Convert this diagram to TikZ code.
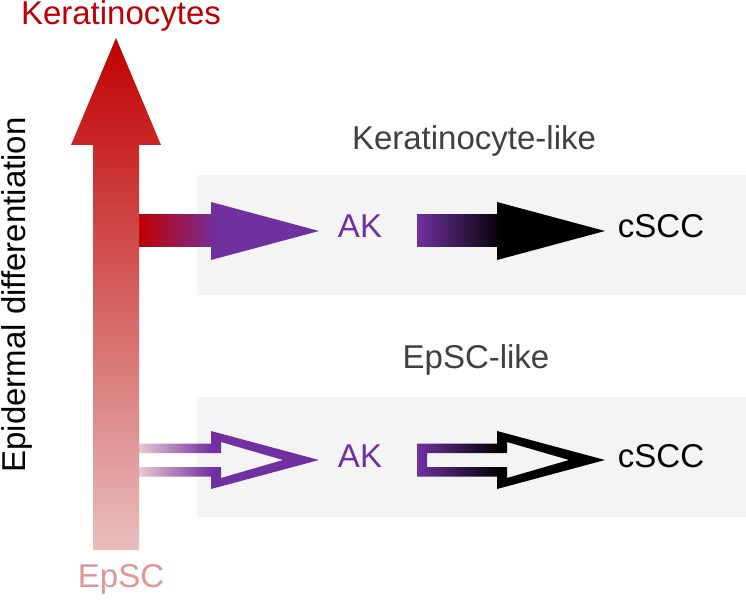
\documentclass[tikz,border=0pt]{standalone}
\usepackage{fontspec}
\setmainfont{Liberation Sans}
\definecolor{kerared}{RGB}{192,0,0}
\definecolor{kerashaft}{RGB}{194,78,80}
\definecolor{epscpink}{RGB}{233,190,190}
\definecolor{epsctext}{RGB}{222,150,150}
\definecolor{epscfade}{RGB}{232,200,212}
\definecolor{akpurple}{RGB}{112,48,160}
\definecolor{boxgrey}{RGB}{244,244,244}
\definecolor{labelgrey}{RGB}{64,64,64}
\tikzset{
  lbl/.style={font=\fontsize{33}{40}\selectfont, inner sep=0pt, anchor=base},
  panel/.style={fill=boxgrey}
}

\begin{document}
\begin{tikzpicture}[x=1pt,y=-1pt]
  \useasboundingbox (0,0) rectangle (746,601);
  \fill[panel] (197,175) rectangle (746,295);
  \fill[panel] (197,397) rectangle (746,517);
  % keratinocyte-like route
  \fill[akpurple] (139,215) -- (211,215) -- (211,202) -- (319,231) -- (211,260) -- (211,247) -- (139,247) -- cycle;
  \shade[left color=kerared, right color=akpurple] (139,215) rectangle (218,247);
  \fill[black] (417,215) -- (497,215) -- (497,202) -- (605,231) -- (497,260) -- (497,247) -- (417,247) -- cycle;
  \shade[left color=akpurple, right color=black] (417,215) rectangle (503,247);
  % EpSC-like route, open arrows
  \begin{scope}
    \clip (120,443.5) -- (211,443.5) -- (211,431) -- (319,460) -- (211,489) -- (211,476.5) -- (120,476.5) -- cycle
          (120,467) -- (221,467) -- (221,478) -- (283,460) -- (221,442) -- (221,453) -- (120,453) -- cycle;
    \shade[left color=epscfade, right color=akpurple] (139,420) rectangle (212,500);
    \fill[akpurple] (212,420) rectangle (330,500);
  \end{scope}
  \begin{scope}
    \clip (417,443.5) -- (497,443.5) -- (497,431) -- (605,460) -- (497,489) -- (497,476.5) -- (417,476.5) -- cycle
          (427,467) -- (507,467) -- (507,478) -- (569,460) -- (507,442) -- (507,453) -- (427,453) -- cycle;
    \shade[left color=akpurple, right color=black] (417,420) rectangle (500,500);
    \fill[black] (500,420) rectangle (610,500);
  \end{scope}
  % differentiation axis
  \shade[top color=kerared, middle color=kerashaft, bottom color=epscpink]
    (93,550) -- (93,145) -- (71,145) -- (116,38) -- (161,145) -- (139,145) -- (139,550) -- cycle;
  \node[lbl, text=kerared] (kera) at (121,25) {Keratinocytes};
  \node[lbl, text=epsctext] (epsc) at (121,587) {EpSC};
  \node[lbl, rotate=90] (axis) at (25,295) {Epidermal differentiation};
  \node[lbl, text=labelgrey] (klike) at (474,150) {Keratinocyte-like};
  \node[lbl, text=labelgrey] (elike) at (476,368) {EpSC-like};
  \node[lbl, text=akpurple] (ak1) at (360,238) {AK};
  \node[lbl] (cscc1) at (661,238) {cSCC};
  \node[lbl, text=akpurple] (ak2) at (360,467) {AK};
  \node[lbl] (cscc2) at (661,467) {cSCC};
\end{tikzpicture}
\end{document}
